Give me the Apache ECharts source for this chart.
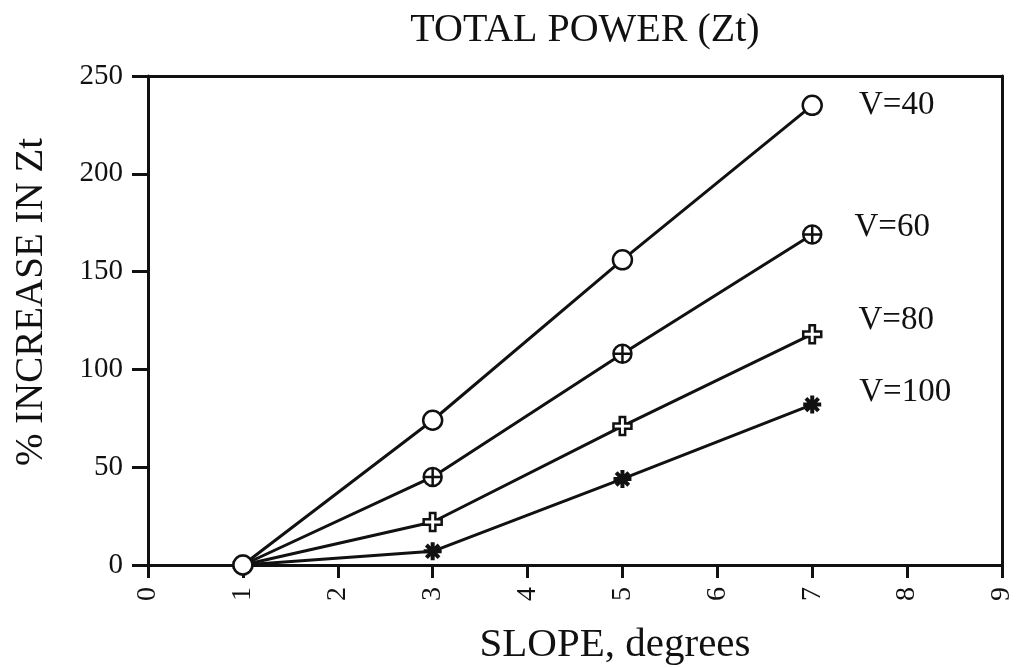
<!DOCTYPE html>
<html>
<head>
<meta charset="utf-8">
<script src="https://cdn.jsdelivr.net/npm/echarts@6/dist/echarts.min.js"></script>
<style>
html,body{margin:0;padding:0;background:#fff;}
#chart{width:1016px;height:668px;}
</style>
</head>
<body>
<div id="chart"></div>
<script>
// ---- data ----
const slopes = [1, 3, 5, 7];
const seriesNames = ['V=40', 'V=60', 'V=80', 'V=100'];
const v40 = [0, 74, 156, 235];
const v60 = [0, 45, 108, 169];
const v80 = [0, 22, 71, 118];
const v100 = [0, 7, 44, 82];
const xTicks = [0, 1, 2, 3, 4, 5, 6, 7, 8, 9];
const yTicks = [0, 50, 100, 150, 200, 250];
const chartTitle = 'TOTAL POWER (Zt)';
const xTitle = 'SLOPE, degrees';
const yTitle = '% INCREASE IN Zt';

// ---- styles ----
const FONT = "'Liberation Serif', 'Times New Roman', serif";
const INK = '#111';
const symbols = {
  'V=40': {symbol: 'circle', size: 19, color: '#fff', border: INK, bw: 2.5},
  'V=60': {symbol: 'path://M10,0 A10,10 0 1,1 10,20 A10,10 0 1,1 10,0 Z M10,0 L10,20 M0,10 L20,10', size: 18, color: '#fff', border: INK, bw: 2.5},
  'V=80': {symbol: 'path://M7,0 L13,0 L13,7 L20,7 L20,13 L13,13 L13,20 L7,20 L7,13 L0,13 L0,7 L7,7 Z', size: 18, color: '#fff', border: INK, bw: 2.5},
  'V=100': {symbol: 'path://M10,0 L10,20 M0,10 L20,10 M3,3 L17,17 M17,3 L3,17', size: 18, color: INK, border: INK, bw: 4}
};
const labelOffsets = {
  'V=40': [31, 0],
  'V=60': [27, -7],
  'V=80': [31, -14],
  'V=100': [31, -12]
};
const valuesByName = {'V=40': v40, 'V=60': v60, 'V=80': v80, 'V=100': v100};

function buildSeries(name) {
  const vals = valuesByName[name];
  const s = symbols[name];
  const data = slopes.map((x, i) => {
    const item = {value: [x, vals[i]]};
    if (i === slopes.length - 1) {
      item.label = {
        show: true, position: 'right', formatter: name,
        offset: labelOffsets[name],
        fontFamily: FONT, fontSize: 33, color: INK
      };
    }
    return item;
  });
  return {
    name: name, type: 'line', data: data,
    symbol: s.symbol, symbolSize: s.size, showAllSymbol: true,
    lineStyle: {color: INK, width: 3},
    itemStyle: {color: s.color, borderColor: s.border, borderWidth: s.bw},
    label: {show: false},
    emphasis: {disabled: true},
    animation: false
  };
}

const order = ['V=100', 'V=80', 'V=60', 'V=40'];

const chart = echarts.init(document.getElementById('chart'), null, {renderer: 'canvas'});
chart.setOption({
  backgroundColor: '#fff',
  animation: false,
  grid: {left: 148, right: 14, top: 76, bottom: 103, containLabel: false},
  xAxis: [{
    type: 'value', min: xTicks[0], max: xTicks[xTicks.length - 1], interval: 1,
    axisLine: {show: true, onZero: false, lineStyle: {color: INK, width: 3}},
    axisTick: {show: true, length: 13, inside: false, lineStyle: {color: INK, width: 3}},
    axisLabel: {rotate: 90, margin: 22, fontFamily: FONT, fontSize: 28, color: INK},
    splitLine: {show: false}
  }, {
    type: 'value', position: 'top', min: 0, max: 9,
    axisLine: {show: true, onZero: false, lineStyle: {color: INK, width: 3}},
    axisTick: {show: false}, axisLabel: {show: false}, splitLine: {show: false}
  }],
  yAxis: [{
    type: 'value', min: yTicks[0], max: yTicks[yTicks.length - 1], interval: 50,
    axisLine: {show: true, onZero: false, lineStyle: {color: INK, width: 3}},
    axisTick: {show: true, length: 16, inside: false, lineStyle: {color: INK, width: 3}},
    axisLabel: {margin: 25, fontFamily: FONT, fontSize: 29, color: INK},
    splitLine: {show: false}
  }, {
    type: 'value', position: 'right', min: 0, max: 250,
    axisLine: {show: true, onZero: false, lineStyle: {color: INK, width: 3}},
    axisTick: {show: false}, axisLabel: {show: false}, splitLine: {show: false}
  }],
  graphic: [
    {type: 'text', x: 585, y: 30, style: {text: chartTitle, font: '40px ' + FONT, fill: INK, textAlign: 'center', align: 'center', textVerticalAlign: 'middle', verticalAlign: 'middle'}},
    {type: 'text', x: 615, y: 645, style: {text: xTitle, font: '41px ' + FONT, fill: INK, textAlign: 'center', align: 'center', textVerticalAlign: 'middle', verticalAlign: 'middle'}},
    {type: 'text', x: 32, y: 302, rotation: Math.PI / 2, style: {text: yTitle, font: '39px ' + FONT, fill: INK, textAlign: 'center', align: 'center', textVerticalAlign: 'middle', verticalAlign: 'middle'}}
  ],
  series: order.map(buildSeries)
});
</script>
</body>
</html>
